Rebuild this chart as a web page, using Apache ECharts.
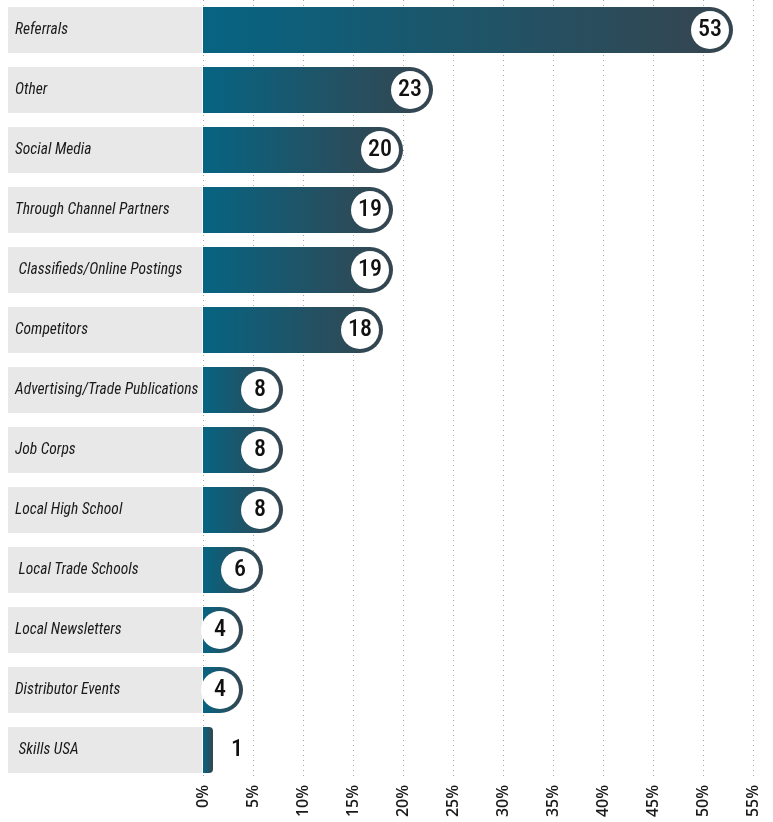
<!DOCTYPE html>
<html>
<head>
<meta charset="utf-8">
<script src="https://cdn.jsdelivr.net/npm/echarts@6/dist/echarts.min.js"></script>
<style>
  html, body { margin: 0; padding: 0; background: #fff; }
  #chart { width: 773px; height: 822px; }
</style>
</head>
<body>
<div id="chart"></div>
<script>
// Sources used for recruiting (percent of respondents)
const categories = [
  'Referrals', 'Other', 'Social Media', 'Through Channel Partners',
  ' Classifieds/Online Postings', 'Competitors', 'Advertising/Trade Publications',
  'Job Corps', 'Local High School', ' Local Trade Schools', 'Local Newsletters',
  'Distributor Events', ' Skills USA'
];
const values = [53, 23, 20, 19, 19, 18, 8, 8, 8, 6, 4, 4, 1];
const tickValues = [0, 5, 10, 15, 20, 25, 30, 35, 40, 45, 50, 55];

const BAR_H = 46;
// narrow faces: the stretch keyword rides along in the canvas font shorthand
const narrowFamily = '"Roboto", "DejaVu Sans", sans-serif';

const barGradient = {
  type: 'linear', x: 0, y: 0, x2: 1, y2: 0,
  colorStops: [
    { offset: 0, color: '#066482' },
    { offset: 1, color: '#36454f' }
  ]
};

const valueText = {
  color: '#111',
  fontFamily: narrowFamily,
  fontWeight: '500 condensed',
  fontSize: 24
};

// white disc with the value, sitting inside the rounded bar end
const circleLabel = {
  show: true,
  position: 'insideRight',
  distance: 4,
  formatter: '{dot|{c}}',
  rich: {
    dot: Object.assign({
      width: 38,
      height: 38,
      lineHeight: 38,
      align: 'center',
      verticalAlign: 'middle',
      backgroundColor: '#ffffff',
      borderRadius: 19
    }, valueText)
  }
};

const seriesData = values.map(v => {
  if (v < 3) {
    return {
      value: v,
      itemStyle: { borderRadius: [0, 4, 4, 0] },
      label: Object.assign({
        show: true, position: 'right', distance: 18, formatter: '{c}', rich: {}
      }, valueText)
    };
  }
  return { value: v };
});

const chart = echarts.init(document.getElementById('chart'), null, { renderer: 'canvas' });
chart.setOption({
  animation: false,
  grid: { left: 203, right: 20, top: 0, bottom: 42, containLabel: false },
  xAxis: {
    type: 'value',
    min: 0,
    max: 55,
    interval: 5,
    axisLine: { show: false },
    axisTick: { show: false },
    splitLine: { show: true, lineStyle: { type: [1, 4], color: '#a8a8a8', width: 1 } },
    axisLabel: {
      rotate: 90,
      margin: 5,
      color: '#1a1a1a',
      fontFamily: '"Open Sans", "Lato", sans-serif',
      fontSize: 16,
      fontWeight: 600,
      formatter: v => (tickValues.includes(v) ? v + '%' : '')
    }
  },
  yAxis: {
    type: 'category',
    inverse: true,
    data: categories,
    axisLine: { show: false },
    axisTick: { show: false },
    splitLine: { show: false },
    axisLabel: {
      margin: 195,
      align: 'left',
      verticalAlign: 'middle',
      width: 187,
      lineHeight: 36,
      padding: [7, 0, 3, 7],
      backgroundColor: '#e8e8e8',
      color: '#1a1a1a',
      fontFamily: narrowFamily,
      fontStyle: 'italic',
      fontWeight: 'extra-condensed',
      fontSize: 15.5,
      overflow: 'none'
    }
  },
  series: [{
    type: 'bar',
    barWidth: BAR_H,
    data: seriesData,
    itemStyle: { color: barGradient, borderRadius: [0, 23, 23, 0] },
    label: circleLabel
  }]
});
</script>
</body>
</html>
